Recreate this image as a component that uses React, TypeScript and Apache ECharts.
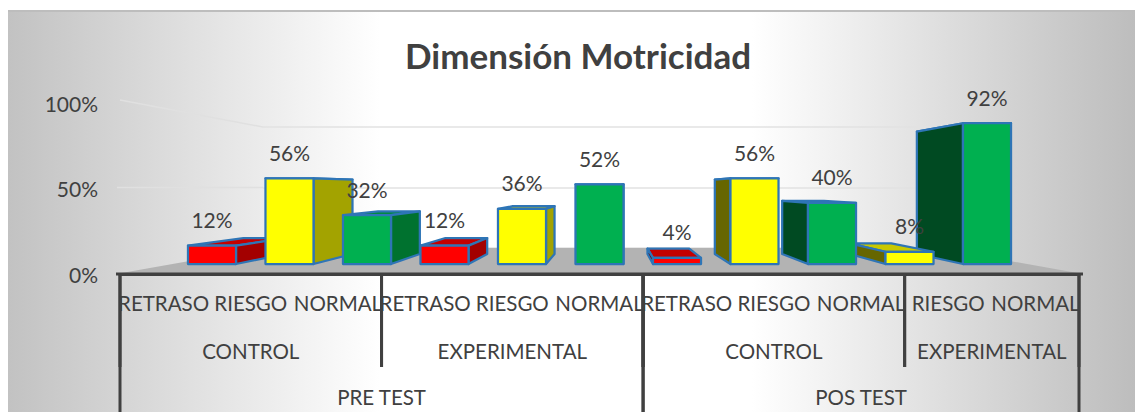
import React, { useEffect, useRef } from "react";
import * as echarts from "echarts";

const FONT = "Lato, Carlito, 'Open Sans', sans-serif";
const INK = "#404040";

const TITLE = "Dimensión Motricidad";
const measures = ["RETRASO", "RIESGO", "NORMAL", "RETRASO", "RIESGO", "NORMAL", "RETRASO", "RIESGO", "NORMAL", "RIESGO", "NORMAL"];
const values = [12, 56, 32, 12, 36, 52, 4, 56, 40, 8, 92];
const groupLabels = ["CONTROL", "EXPERIMENTAL", "CONTROL", "EXPERIMENTAL"];
const groupStarts = [0, 3, 6, 9];
const groupEnds = [3, 6, 9, 11];
const phaseLabels = ["PRE TEST", "POS TEST"];
const phaseStarts = [0, 6];
const phaseEnds = [6, 11];
const wallTicks = [0, 50, 100];

const faces: Record<string, { front: string; top: string; right: string; left: string }> = {
  RETRASO: { front: "#FF0000", top: "#C40000", right: "#A30000", left: "#650000" },
  RIESGO: { front: "#FFFF00", top: "#C8C800", right: "#A3A300", left: "#666600" },
  NORMAL: { front: "#00B050", top: "#008A3E", right: "#00722F", left: "#004A22" },
};
const EDGE = "#2E75B6";
const VANISH_X = 611;
const DEPTH_SCALE = 0.869;
const DEPTH_RISE = 10;

const center = (values.length - 1) / 2 + 0.2;
const drawOrder = values
  .map((_, i) => i)
  .sort((a, b) => Math.abs(b - center) - Math.abs(a - center));

function renderBar(params: any, api: any) {
  const i = api.value(0) as number;
  const v = api.value(1) as number;
  const [cx, yTop] = api.coord([i, v]);
  const [, yBase] = api.coord([i, 0]);
  const w = api.size([1, 0])[0] * 0.62;
  const x0 = cx - w / 2;
  const x1 = cx + w / 2;
  const bx = (x: number) => VANISH_X + (x - VANISH_X) * DEPTH_SCALE;
  const by = (y: number) => yBase - DEPTH_RISE - (yBase - y) * DEPTH_SCALE;
  const f = faces[measures[i]];
  const stroke = { stroke: EDGE, lineWidth: 2.25, lineJoin: "round" };
  const rightVisible = cx < VANISH_X;
  const sx = rightVisible ? x1 : x0;
  return {
    type: "group",
    children: [
      {
        type: "polygon",
        shape: { points: [[x0, yTop], [x1, yTop], [bx(x1), by(yTop)], [bx(x0), by(yTop)]] },
        style: { fill: f.top, ...stroke },
      },
      {
        type: "polygon",
        shape: { points: [[sx, yTop], [bx(sx), by(yTop)], [bx(sx), by(yBase)], [sx, yBase]] },
        style: { fill: rightVisible ? f.right : f.left, ...stroke },
      },
      {
        type: "rect",
        shape: { x: x0, y: yTop, width: w, height: yBase - yTop },
        style: { fill: f.front, ...stroke },
      },
    ],
  };
}

function renderBarLabel(params: any, api: any) {
  const [cx, y] = api.coord([api.value(0), api.value(1)]);
  return {
    type: "text",
    x: cx,
    y: y - 26,
    style: {
      text: api.value(1) + "%",
      fill: INK,
      font: `21px ${FONT}`,
      textAlign: "center",
      textVerticalAlign: "middle",
    },
  };
}

function levelRenderer(labels: string[], ends: number[], textY: number, lineEnd: number) {
  return (params: any, api: any) => {
    const k = params.dataIndex;
    const half = api.size([1, 0])[0] / 2;
    const left = api.coord([api.value(0), 0])[0] - half;
    const right = api.coord([ends[k] - 1, 0])[0] + half;
    const base = api.coord([0, 0])[1];
    const line = (x: number) => ({
      type: "line",
      shape: { x1: x, y1: base, x2: x, y2: lineEnd },
      style: { stroke: INK, lineWidth: 3 },
    });
    return {
      type: "group",
      children: [
        line(left),
        line(right),
        {
          type: "text",
          x: (left + right) / 2,
          y: textY,
          style: {
            text: labels[k],
            fill: INK,
            font: `20.5px ${FONT}`,
            textAlign: "center",
            textVerticalAlign: "middle",
          },
        },
      ],
    };
  };
}

export default function App() {
  const ref = useRef<HTMLDivElement>(null);
  useEffect(() => {
    const chart = echarts.init(ref.current!, undefined, { renderer: "svg" });
    chart.setOption({
      animation: false,
      title: {
        text: TITLE,
        left: 573,
        top: 32,
        textAlign: "center",
        textStyle: { fontFamily: FONT, fontWeight: "bold", fontSize: 35, color: INK },
      },
      graphic: [
        {
          type: "rect",
          z: -10,
          shape: { x: 8, y: 10, width: 1127, height: 402 },
          style: {
            fill: {
              type: "linear",
              x: 0,
              y: 0,
              x2: 1,
              y2: 0,
              colorStops: [
                { offset: 0, color: "#c2c2c2" },
                { offset: 0.33, color: "#ffffff" },
                { offset: 0.66, color: "#ffffff" },
                { offset: 1, color: "#bdbdbd" },
              ],
            },
          },
        },
        {
          type: "line",
          z: -9,
          shape: { x1: 8, y1: 11, x2: 1135, y2: 11 },
          style: { stroke: "#bdbdbd", lineWidth: 2 },
        },
        {
          type: "polygon",
          z: 1,
          shape: { points: [[116, 274], [263, 248], [937, 248], [1083, 274]] },
          style: { fill: "#B3B3B3" },
        },
        {
          type: "line",
          z: 1,
          shape: { x1: 120, y1: 100, x2: 263, y2: 127 },
          style: { stroke: "#e0e0e0", lineWidth: 1.5 },
        },
        {
          type: "line",
          z: 1,
          shape: { x1: 117, y1: 187.5, x2: 263, y2: 187.5 },
          style: { stroke: "#e0e0e0", lineWidth: 1.5 },
        },
        {
          type: "line",
          z: 4,
          shape: { x1: 116, y1: 274, x2: 1083, y2: 274 },
          style: { stroke: INK, lineWidth: 3 },
        },
      ],
      grid: [
        { left: 120, top: 103, width: 959, height: 171 },
        { left: 173.25, top: 111, width: 852.5, height: 153 },
        { left: 263, top: 127, width: 674, height: 121 },
      ],
      xAxis: [
        {
          gridIndex: 0,
          type: "category",
          data: measures.map((m, i) => ({ value: m + i, textStyle: {} })),
          axisLine: { lineStyle: { color: INK, width: 3 } },
          axisTick: { show: false },
          axisLabel: {
            interval: 0,
            margin: 18,
            color: INK,
            fontFamily: FONT,
            fontSize: 20.5,
            formatter: (_: string, i: number) => measures[i],
          },
        },
        {
          gridIndex: 1,
          type: "category",
          data: values.map((_, i) => i),
          show: false,
        },
        { gridIndex: 2, type: "value", min: 0, max: 1, show: false },
      ],
      yAxis: [
        {
          gridIndex: 0,
          type: "value",
          min: 0,
          max: 100,
          interval: 50,
          axisLine: { show: false },
          axisTick: { show: false },
          splitLine: { show: false },
          axisLabel: {
            margin: 22,
            color: INK,
            fontFamily: FONT,
            fontSize: 21,
            formatter: "{value}%",
          },
        },
        { gridIndex: 1, type: "value", min: 0, max: 100, show: false, splitLine: { show: false } },
        {
          gridIndex: 2,
          type: "value",
          min: wallTicks[0],
          max: wallTicks[2],
          interval: wallTicks[1],
          axisLine: { show: false },
          axisTick: { show: false },
          axisLabel: { show: false },
          splitLine: { show: true, lineStyle: { color: "#e2e2e2", width: 1.5 } },
        },
      ],
      series: [
        {
          type: "custom",
          name: "barras",
          xAxisIndex: 1,
          yAxisIndex: 1,
          z: 3,
          clip: false,
          encode: { x: 0, y: 1 },
          data: drawOrder.map((i) => [i, values[i]]),
          renderItem: renderBar,
        },
        {
          type: "custom",
          name: "etiquetas",
          xAxisIndex: 1,
          yAxisIndex: 1,
          z: 5,
          clip: false,
          encode: { x: 0, y: 1 },
          data: values.map((v, i) => [i, v]),
          renderItem: renderBarLabel,
        },
        {
          type: "custom",
          name: "grupo",
          xAxisIndex: 0,
          yAxisIndex: 0,
          z: 4,
          clip: false,
          encode: { x: 0, y: 1 },
          data: groupStarts.map((s) => [s, 0]),
          renderItem: levelRenderer(groupLabels, groupEnds, 351, 367),
        },
        {
          type: "custom",
          name: "fase",
          xAxisIndex: 0,
          yAxisIndex: 0,
          z: 4,
          clip: false,
          encode: { x: 0, y: 1 },
          data: phaseStarts.map((s) => [s, 0]),
          renderItem: levelRenderer(phaseLabels, phaseEnds, 397, 412),
        },
      ],
    });
    return () => chart.dispose();
  }, []);
  return <div ref={ref} style={{ position: "absolute", left: 0, top: 0, width: 1135, height: 412 }} />;
}
